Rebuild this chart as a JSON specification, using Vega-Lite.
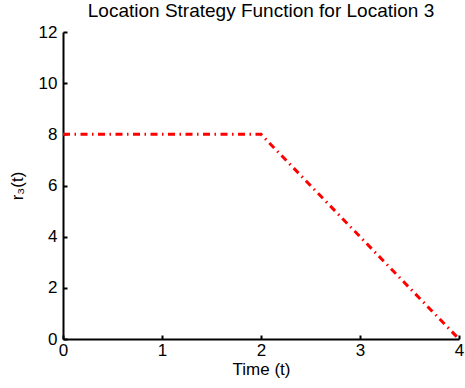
{
  "$schema": "https://vega.github.io/schema/vega-lite/v6.json",
  "width": 396,
  "height": 307,
  "autosize": {"type": "none"},
  "padding": {"left": 63, "top": 32, "right": 6, "bottom": 49},
  "background": "white",
  "title": {"text": "Location Strategy Function for Location 3", "fontSize": 19, "fontWeight": "normal", "font": "Liberation Sans", "color": "black", "offset": 2, "frame": "group", "anchor": "middle"},
  "config": {"view": {"stroke": null}, "font": "Liberation Sans"},
  "data": {"values": [
    {"t": 0, "r": 8},
    {"t": 2, "r": 8},
    {"t": 4, "r": 0}
  ]},
  "mark": {"type": "line", "color": "#ff0000", "strokeWidth": 3, "strokeDash": [7, 4.5, 1.5, 4.5]},
  "encoding": {
    "x": {"field": "t", "type": "quantitative", "scale": {"domain": [0, 4], "nice": false},
      "axis": {"title": "Time (t)", "values": [0, 1, 2, 3, 4], "grid": false, "domainColor": "black", "domainWidth": 2, "tickColor": "black", "tickWidth": 2, "tickSize": -4, "labelPadding": 7, "labelFontSize": 17, "labelColor": "black", "labelFont": "Liberation Sans", "titleFont": "Liberation Sans", "titleFontSize": 17, "titleFontWeight": "normal", "titleColor": "black", "titlePadding": 3, "labelFlush": false}},
    "y": {"field": "r", "type": "quantitative", "scale": {"domain": [0, 12], "nice": false},
      "axis": {"title": "r₃(t)", "values": [0, 2, 4, 6, 8, 10, 12], "grid": false, "domainColor": "black", "domainWidth": 2, "tickColor": "black", "tickWidth": 2, "tickSize": -4, "labelPadding": 10, "labelFontSize": 17, "labelColor": "black", "labelFont": "Liberation Sans", "titleFont": "Liberation Sans", "titleFontSize": 17, "titleFontWeight": "normal", "titleColor": "black", "titlePadding": 12, "labelFlush": false}}
  }
}
